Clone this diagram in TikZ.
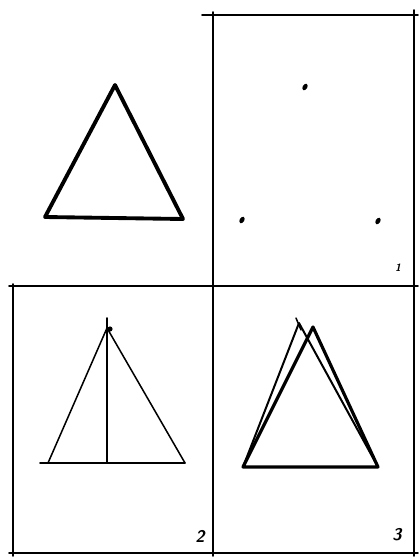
\documentclass[tikz,border=0pt]{standalone}
\usepackage{tikz}
\usetikzlibrary{positioning,shapes.geometric}

\begin{document}
\begin{tikzpicture}[x=0.03cm,y=-0.03cm,line join=round,line cap=round,
  frame/.style={line width=1.4pt},
  thick stroke/.style={line width=3pt},
  thin stroke/.style={line width=1.3pt},
  dot/.style={ellipse,fill,inner sep=0pt,minimum width=4pt,minimum height=6pt,rotate=-30},
  num/.style={font=\Large\sffamily\bfseries\itshape}]
\useasboundingbox (0,0) rectangle (418,558);
% panel frames
\draw[frame] (202,15)--(418,15);
\draw[frame] (213,12)--(213,556);
\draw[frame] (414,10)--(414,556);
\draw[frame] (9,286)--(418,286);
\draw[frame] (13,284)--(13,556);
\draw[frame] (9,553)--(418,553);
% 1: finished triangle
\coordinate (ta) at (115,85);
\coordinate (tl) at (45,217);
\coordinate (tr) at (183,219);
\draw[thick stroke,line width=3.3pt] (tl)--(ta)--(tr)--cycle;
% 1: three dots
\node[dot] (da) at (305,87) {};
\node[dot] (dl) at (242,220) {};
\node[dot] (dr) at (378,221) {};
\node[font=\small\sffamily\bfseries\itshape] (n1) at (398,268) {1};
% 2: construction lines
\coordinate (sa) at (107,328);
\coordinate (sl) at (48,463);
\coordinate (sr) at (185,463);
\coordinate (st) at (107,318);
\coordinate (sm) at (107,462);
\draw[thin stroke] (sl)--(sa)--(sr);
\draw[thin stroke] (40,463)--(sr);
\draw[thin stroke] (st)--(sm);
\fill (110,329) circle (2.2pt);
\node[num] (n2) at (200,536) {2};
% 3: drawn over
\coordinate (ua) at (299,323);
\coordinate (ub) at (313,327);
\coordinate (ul) at (243,467);
\coordinate (ur) at (378,467);
\draw[thin stroke,line width=1.7pt] (ul)--(ua)--(ur);
\draw[thick stroke,line width=2.7pt] (ul)--(ub)--(ur)--cycle;
\draw[thin stroke] (296,318)--(301,330);
\node[num] (n3) at (397,535) {3};
\end{tikzpicture}
\end{document}
